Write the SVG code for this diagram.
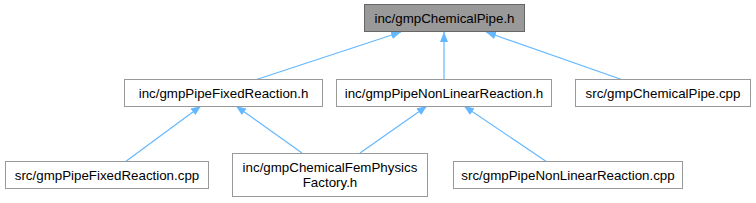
<svg xmlns="http://www.w3.org/2000/svg" width="756" height="203" viewBox="0 0 756 203">
<style>
.n rect{fill:#fff;stroke:#999;stroke-width:1}
.n.top rect{fill:#999;stroke:#666}
text{font-family:"Liberation Sans",Arial,sans-serif;font-size:13.33px;fill:#000;text-anchor:middle}
.e{stroke:#63b8ff;stroke-width:1.2;fill:none;marker-end:url(#ah)}
</style>
<defs>
<marker id="ah" viewBox="0 0 10 8" refX="10" refY="4" markerWidth="10" markerHeight="8" markerUnits="userSpaceOnUse" orient="auto">
<path d="M0,0 L10,4 L0,8 z" fill="#63b8ff"/>
</marker>
</defs>
<g id="edges">
<path class="e" d="M255,80 L401,32"/>
<path class="e" d="M444,80 L444,32"/>
<path class="e" d="M623,80 L486,32"/>
<path class="e" d="M125,162 L201,106"/>
<path class="e" d="M302,153 L236,106"/>
<path class="e" d="M360,153 L427,106"/>
<path class="e" d="M547,162 L464,106"/>
</g>
<g id="node1" class="n top"><rect x="364.5" y="4.5" width="160" height="27"/><text x="444.5" y="22.5">inc/gmpChemicalPipe.h</text></g>
<g id="node2" class="n"><rect x="124.5" y="79.5" width="198" height="27"/><text x="223.5" y="97.5">inc/gmpPipeFixedReaction.h</text></g>
<g id="node3" class="n"><rect x="336.5" y="79.5" width="215" height="27"/><text x="444" y="97.5">inc/gmpPipeNonLinearReaction.h</text></g>
<g id="node4" class="n"><rect x="575.5" y="79.5" width="175" height="27"/><text x="663" y="97.5">src/gmpChemicalPipe.cpp</text></g>
<g id="node5" class="n"><rect x="5.5" y="161.5" width="203" height="27"/><text x="107" y="179.5">src/gmpPipeFixedReaction.cpp</text></g>
<g id="node6" class="n"><rect x="232.5" y="153.5" width="195" height="43"/><text x="330" y="172">inc/gmpChemicalFemPhysics</text><text x="330" y="187">Factory.h</text></g>
<g id="node7" class="n"><rect x="453.5" y="161.5" width="229" height="27"/><text x="568" y="179.5">src/gmpPipeNonLinearReaction.cpp</text></g>
</svg>
